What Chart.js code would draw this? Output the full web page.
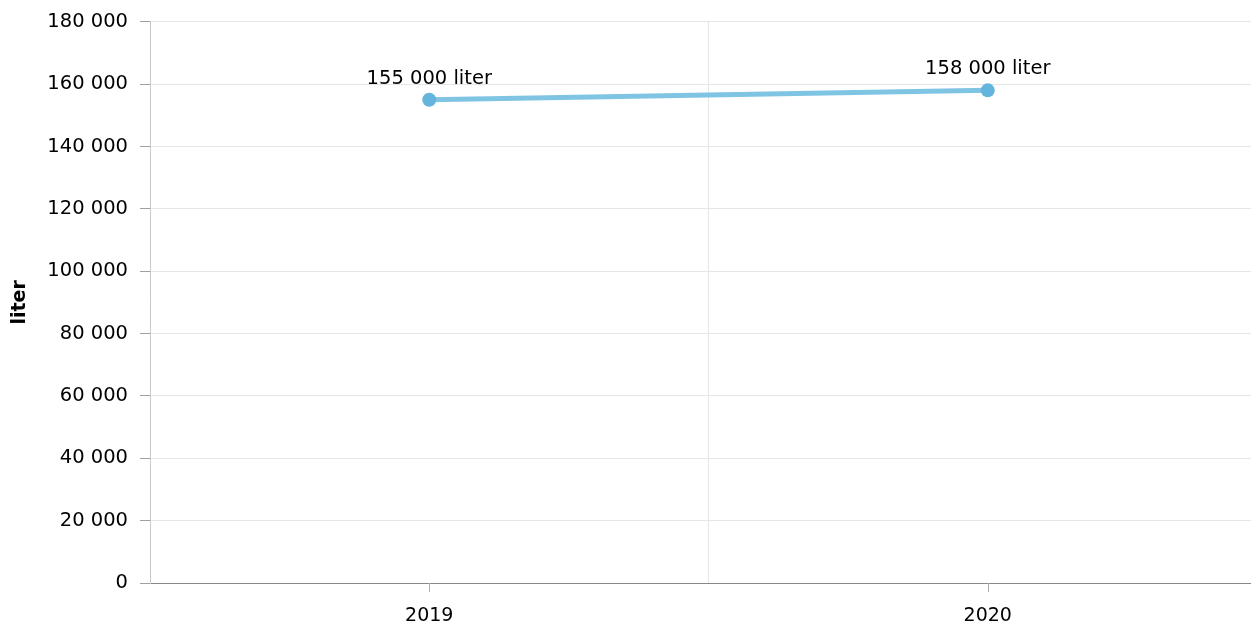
<!DOCTYPE html>
<html><head><meta charset="utf-8">
<script src="https://cdn.jsdelivr.net/npm/chart.js@4/dist/chart.umd.min.js"></script>
<style>
html,body{margin:0;padding:0;overflow:hidden;background:#fff;width:1251px;height:625px}
#wrap{width:1274px;height:625px;position:relative}
</style></head>
<body><div id="wrap"><canvas id="c" width="1274" height="625"></canvas></div>
<script>
const categories = ['2019', '2020'];
const values = [155000, 158000];
const yTickValues = [0, 20000, 40000, 60000, 80000, 100000, 120000, 140000, 160000, 180000];
const unitLabel = 'liter';
const axisTitle = 'liter';

function fmt(v) { return String(v).replace(/\B(?=(\d{3})+(?!\d))/g, ' '); }

const FONT = '"DejaVu Sans", Verdana, sans-serif';

const dataLabels = {
  id: 'dataLabels',
  afterDatasetsDraw(chart) {
    const ctx = chart.ctx;
    const meta = chart.getDatasetMeta(0);
    ctx.save();
    ctx.font = '19.5px ' + FONT;
    ctx.fillStyle = '#000';
    ctx.textAlign = 'center';
    ctx.textBaseline = 'alphabetic';
    meta.data.forEach((pt, i) => {
      ctx.fillText(fmt(values[i]) + ' ' + unitLabel, pt.x, pt.y - 16);
    });
    ctx.restore();
  }
};

const xTickMarks = {
  id: 'xTickMarks',
  afterDraw(chart) {
    const ctx = chart.ctx;
    const xs = chart.scales.x;
    ctx.save();
    ctx.strokeStyle = '#b0b0b0';
    ctx.lineWidth = 1;
    categories.forEach((c, i) => {
      const px = Math.round(xs.getPixelForTick(i)) + 0.5;
      ctx.beginPath();
      ctx.moveTo(px, xs.top);
      ctx.lineTo(px, xs.top + 9);
      ctx.stroke();
    });
    ctx.restore();
  }
};

new Chart(document.getElementById('c'), {
  type: 'line',
  data: {
    labels: categories,
    datasets: [{
      data: values,
      borderColor: '#80c4e4',
      borderWidth: 5,
      pointRadius: 7,
      pointHoverRadius: 7,
      pointBackgroundColor: '#64b5dd',
      pointBorderWidth: 0,
      tension: 0,
      fill: false
    }]
  },
  options: {
    responsive: false,
    maintainAspectRatio: false,
    animation: false,
    devicePixelRatio: 1,
    layout: { padding: { top: 19, right: 0, bottom: 0, left: 0 } },
    plugins: { legend: { display: false }, tooltip: { enabled: false } },
    scales: {
      x: {
        type: 'category',
        offset: true,
        grid: { offset: true, color: '#e6e6e6', drawTicks: false },
        border: { color: '#888', width: 1 },
        ticks: { font: { family: FONT, size: 19 }, color: '#000', padding: 22 },
        afterFit: s => { s.height = 42; }
      },
      y: {
        min: 0,
        max: 180000,
        afterBuildTicks: s => { s.ticks = yTickValues.map(v => ({ value: v })); },
        grid: { color: '#e6e6e6', tickColor: '#a0a0a0', tickLength: 10 },
        border: { color: '#c8c8c8', width: 1 },
        ticks: { font: { family: FONT, size: 19.5, lineHeight: 1 }, color: '#000', padding: 12, callback: v => fmt(v) },
        title: { display: true, text: axisTitle, font: { family: FONT, size: 19, weight: 'bold' }, color: '#000', padding: { top: 9, bottom: 0 } },
        afterFit: s => { s.width = 150; }
      }
    }
  },
  plugins: [dataLabels, xTickMarks]
});
</script>
</body></html>
